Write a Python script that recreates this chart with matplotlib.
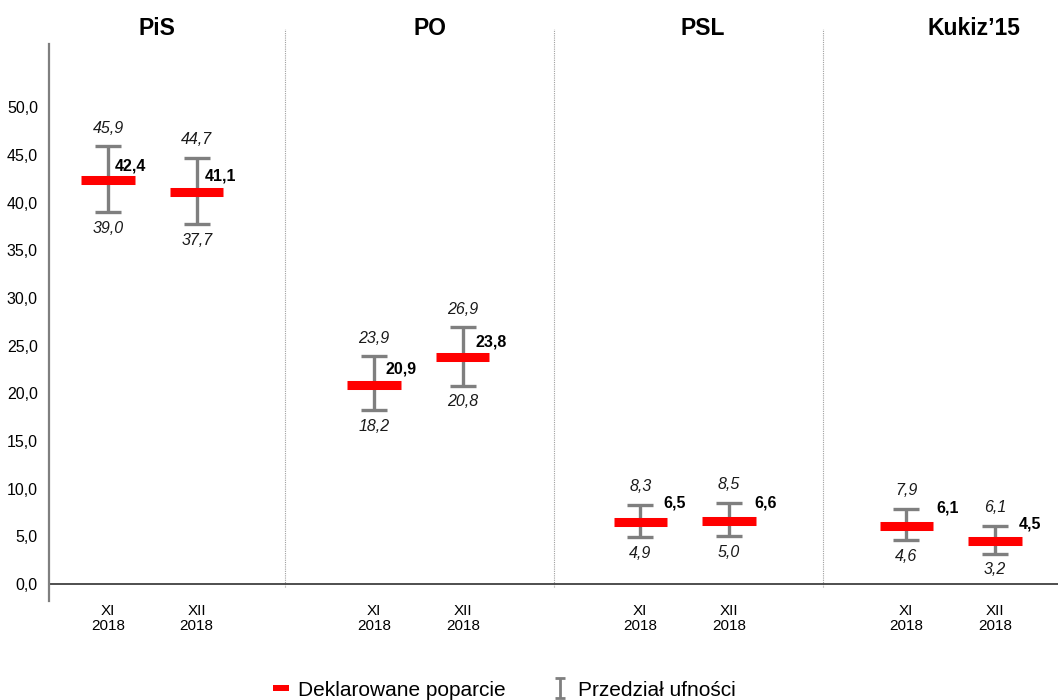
import matplotlib
matplotlib.use('Agg')
import matplotlib.pyplot as plt
from matplotlib.lines import Line2D
from matplotlib.path import Path

plt.rcParams['font.family'] = ['Liberation Sans', 'DejaVu Sans']

# data
parties = ['PiS', 'PO', 'PSL', 'Kukiz\u201915']
months = ['XI\n2018', 'XII\n2018'] * 4
support = [42.4, 41.1, 20.9, 23.8, 6.5, 6.6, 6.1, 4.5]
ci_low = [39.0, 37.7, 18.2, 20.8, 4.9, 5.0, 4.6, 3.2]
ci_high = [45.9, 44.7, 23.9, 26.9, 8.3, 8.5, 7.9, 6.1]

# layout
xpos = [0, 1, 3, 4, 6, 7, 9, 10]
sep_x = [1.995, 5.03, 8.06]
title_x = [0.55, 3.63, 6.70, 9.76]
label_dx = [7, 8, 11, 13, 23, 25, 30, 24]      # pixels
label_dy = [14, 16, 16, 15, 19, 18, 18, 17]

def fmt(v):
    return ('%.1f' % v).replace('.', ',')

fig = plt.figure(figsize=(10.58, 7), dpi=100)
ax = fig.add_axes([49/1058, 1-601/700, 1-49/1058, 572/700])
ax.set_xlim(-0.665, 10.71)
ax.set_ylim(-1.78, 58.2)

gray = '#7f7f7f'
lo = [s - l for s, l in zip(support, ci_low)]
hi = [h - s for s, h in zip(support, ci_high)]
ax.errorbar(xpos, support, yerr=[lo, hi], fmt='none', ecolor=gray,
            elinewidth=2.4, capsize=9.6, capthick=2.4, zorder=2)
ax.hlines(support, [x - 0.3 for x in xpos], [x + 0.3 for x in xpos],
          color='#ff0000', linewidth=6.5, zorder=3)

for i, x in enumerate(xpos):
    ax.annotate(fmt(ci_high[i]), (x, ci_high[i]), xytext=(0, 18),
                textcoords='offset pixels', ha='center', va='center',
                fontsize=11.5, style='italic', color='#1a1a1a')
    ax.annotate(fmt(ci_low[i]), (x, ci_low[i]), xytext=(0, -16),
                textcoords='offset pixels', ha='center', va='center',
                fontsize=11.5, style='italic', color='#1a1a1a')
    ax.annotate(fmt(support[i]), (x, support[i]),
                xytext=(label_dx[i], label_dy[i]),
                textcoords='offset pixels', ha='left', va='center',
                fontsize=11.5, fontweight='bold', color='black')

for sx in sep_x:
    ax.plot([sx, sx], [-0.3, 58.2], color='#a0a0a0', lw=0.8,
            linestyle=(0, (1, 1)), zorder=1)

ax.axhline(0, color='#404040', lw=1.3, zorder=1)

for tx, name in zip(title_x, parties):
    ax.text(tx, 1.0017, name, transform=ax.get_xaxis_transform(),
            ha='center', va='center', fontsize=16.5, fontweight='bold')

ax.set_xticks(xpos)
ax.set_xticklabels(months, fontsize=11, linespacing=1.15)
ax.set_yticks(range(0, 51, 5))
ax.set_yticklabels([fmt(v) for v in range(0, 51, 5)], fontsize=11.5)
ax.tick_params(axis='both', length=0)
ax.tick_params(axis='y', pad=8)
ax.tick_params(axis='x', pad=2)

for s in ['top', 'right', 'bottom']:
    ax.spines[s].set_visible(False)
ax.spines['left'].set_color(gray)
ax.spines['left'].set_linewidth(1.6)
ax.spines['left'].set_bounds(-1.78, 56.6)

# legend
rect = Path([(-1, -0.45), (1, -0.45), (1, 0.45), (-1, 0.45), (-1, -0.45)],
            [Path.MOVETO, Path.LINETO, Path.LINETO, Path.LINETO, Path.CLOSEPOLY])
ibar = Path([(-0.5, 1), (0.5, 1), (0, 1), (0, -1), (-0.5, -1), (0.5, -1)],
            [Path.MOVETO, Path.LINETO, Path.MOVETO, Path.LINETO, Path.MOVETO, Path.LINETO])
h1 = Line2D([], [], linestyle='none', marker=rect, markersize=11,
            markerfacecolor='#ff0000', markeredgecolor='#ff0000', markeredgewidth=0)
h2 = Line2D([], [], linestyle='none', marker=ibar, markersize=14,
            markerfacecolor='none', markeredgecolor=gray, markeredgewidth=2)
fig.legend([h1, h2], ['Deklarowane poparcie', 'Przedzia\u0142 ufno\u015bci'],
           loc='center', bbox_to_anchor=(503/1058, 1-690/700), ncol=2,
           frameon=False, fontsize=15, handlelength=1.0, handletextpad=0.35,
           columnspacing=2.1, borderaxespad=0, numpoints=1)

fig.savefig('out.png', dpi=100)
